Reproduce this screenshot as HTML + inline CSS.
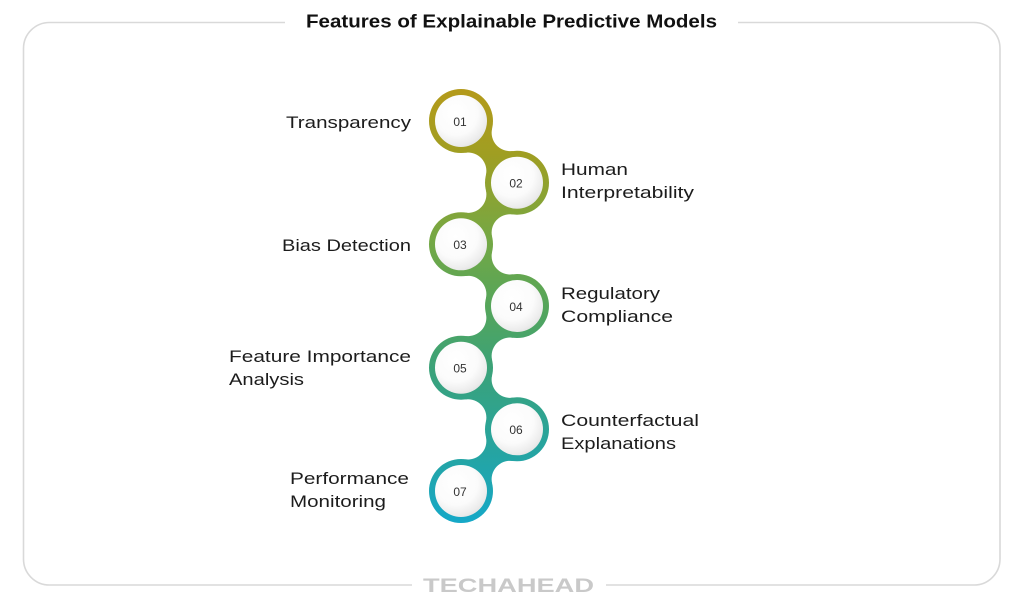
<!DOCTYPE html>
<html>
<head>
<meta charset="utf-8">
<style>
  html, body { margin:0; padding:0; background:#ffffff; }
  svg { display:block; }
  .lbl { font-family:"Liberation Sans", sans-serif; font-size:17px; fill:#1c1c1c; }
  .num { font-family:"Liberation Sans", sans-serif; font-size:12px; fill:#333333; text-anchor:middle; }
</style>
</head>
<body>
<svg width="1024" height="609" viewBox="0 0 1024 609" xmlns="http://www.w3.org/2000/svg">
  <defs>
    <linearGradient id="g" gradientUnits="userSpaceOnUse" x1="0" y1="88" x2="0" y2="524">
      <stop offset="0" stop-color="#b49a1a"/>
      <stop offset="0.15" stop-color="#a09e22"/>
      <stop offset="0.35" stop-color="#74a845"/>
      <stop offset="0.5" stop-color="#55a55a"/>
      <stop offset="0.65" stop-color="#3aa27a"/>
      <stop offset="0.82" stop-color="#27a49e"/>
      <stop offset="1" stop-color="#15a8c8"/>
    </linearGradient>
    <radialGradient id="w" cx="0.4" cy="0.35" r="0.7">
      <stop offset="0" stop-color="#ffffff"/>
      <stop offset="0.6" stop-color="#fbfbfb"/>
      <stop offset="0.88" stop-color="#ececec"/>
      <stop offset="1" stop-color="#e2e2e2"/>
    </radialGradient>
  </defs>

  <!-- border -->
  <g fill="none" stroke="#d9d9d9" stroke-width="1.6">
    <path d="M285,22.5 L49.5,22.5 A26,26 0 0 0 23.5,48.5 L23.5,559 A26,26 0 0 0 49.5,585 L412,585"/>
    <path d="M606,585 L974,585 A26,26 0 0 0 1000,559 L1000,48.5 A26,26 0 0 0 974,22.5 L738,22.5"/>
  </g>

  <!-- title -->
  <text x="306" y="27.5" textLength="411" lengthAdjust="spacingAndGlyphs" style="font-family:'Liberation Sans',sans-serif;font-size:18.5px;font-weight:bold;fill:#111;">Features of Explainable Predictive Models</text>

  <!-- footer logo -->
  <text x="423" y="592" textLength="171" lengthAdjust="spacingAndGlyphs" style="font-family:'Liberation Sans',sans-serif;font-size:19px;font-weight:bold;fill:#c9c9c9;">TECHAHEAD</text>

  <!-- connectors -->
  <g fill="url(#g)">
    <path d="M461,121 L465.43,152.70 A18.4,18.4 0 0,1 485.87,175.21 L517,182.67 L512.57,150.96 A18.4,18.4 0 0,1 492.13,128.45 Z"/>
    <path d="M517,182.7 L512.57,214.4 A18.4,18.4 0 0,0 492.13,236.91 L461,244.37 L465.43,212.66 A18.4,18.4 0 0,0 485.87,190.15 Z"/>
    <path d="M461,244.3 L465.43,276.0 A18.4,18.4 0 0,1 485.87,298.51 L517,305.97 L512.57,274.26 A18.4,18.4 0 0,1 492.13,251.75 Z"/>
    <path d="M517,306 L512.57,337.7 A18.4,18.4 0 0,0 492.13,360.21 L461,367.67 L465.43,335.96 A18.4,18.4 0 0,0 485.87,313.45 Z"/>
    <path d="M461,367.7 L465.43,399.4 A18.4,18.4 0 0,1 485.87,421.91 L517,429.37 L512.57,397.66 A18.4,18.4 0 0,1 492.13,375.15 Z"/>
    <path d="M517,429.3 L512.57,461.0 A18.4,18.4 0 0,0 492.13,483.51 L461,490.97 L465.43,459.26 A18.4,18.4 0 0,0 485.87,436.75 Z"/>
  </g>
  <!-- rings -->
  <g fill="url(#g)">
    <circle cx="461" cy="121" r="32"/>
    <circle cx="517" cy="182.7" r="32"/>
    <circle cx="461" cy="244.3" r="32"/>
    <circle cx="517" cy="306" r="32"/>
    <circle cx="461" cy="367.7" r="32"/>
    <circle cx="517" cy="429.3" r="32"/>
    <circle cx="461" cy="491" r="32"/>
  </g>
  <g fill="url(#w)">
    <circle cx="461" cy="121" r="26"/>
    <circle cx="517" cy="182.7" r="26"/>
    <circle cx="461" cy="244.3" r="26"/>
    <circle cx="517" cy="306" r="26"/>
    <circle cx="461" cy="367.7" r="26"/>
    <circle cx="517" cy="429.3" r="26"/>
    <circle cx="461" cy="491" r="26"/>
  </g>
  <g class="num">
    <text x="460" y="126">01</text>
    <text x="516" y="187.5">02</text>
    <text x="460" y="249">03</text>
    <text x="516" y="311">04</text>
    <text x="460" y="372.5">05</text>
    <text x="516" y="434">06</text>
    <text x="460" y="496">07</text>
  </g>

  <!-- labels left -->
  <g class="lbl">
    <text x="286" y="128" textLength="125" lengthAdjust="spacingAndGlyphs">Transparency</text>
    <text x="282" y="251" textLength="129" lengthAdjust="spacingAndGlyphs">Bias Detection</text>
    <text x="229" y="362" textLength="182" lengthAdjust="spacingAndGlyphs">Feature Importance</text>
    <text x="229" y="385" textLength="75" lengthAdjust="spacingAndGlyphs">Analysis</text>
    <text x="290" y="484" textLength="119" lengthAdjust="spacingAndGlyphs">Performance</text>
    <text x="290" y="507" textLength="96" lengthAdjust="spacingAndGlyphs">Monitoring</text>
  </g>
  <!-- labels right -->
  <g class="lbl">
    <text x="561" y="175" textLength="67" lengthAdjust="spacingAndGlyphs">Human</text>
    <text x="561" y="198" textLength="133" lengthAdjust="spacingAndGlyphs">Interpretability</text>
    <text x="561" y="299" textLength="99" lengthAdjust="spacingAndGlyphs">Regulatory</text>
    <text x="561" y="322" textLength="112" lengthAdjust="spacingAndGlyphs">Compliance</text>
    <text x="561" y="426" textLength="138" lengthAdjust="spacingAndGlyphs">Counterfactual</text>
    <text x="561" y="449" textLength="115" lengthAdjust="spacingAndGlyphs">Explanations</text>
  </g>
</svg>
</body>
</html>
